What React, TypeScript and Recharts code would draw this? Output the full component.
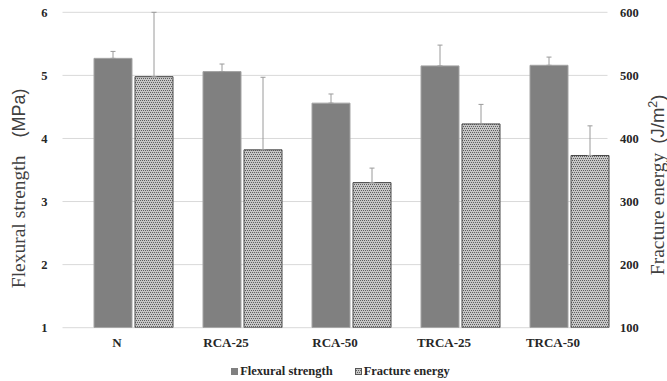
import React from 'react';
import { BarChart, Bar, XAxis, YAxis, CartesianGrid, ErrorBar, Legend } from 'recharts';

// Mix designs along the category axis
const categories = ['N', 'RCA-25', 'RCA-50', 'TRCA-25', 'TRCA-50'];

// Flexural strength (MPa) and its upper error
const flexuralStrength = [5.27, 5.06, 4.56, 5.15, 5.16];
const flexuralError = [0.11, 0.12, 0.145, 0.33, 0.13];

// Fracture energy (J/m²) and its upper error
const fractureEnergy = [498, 382, 330, 423, 373];
const fractureError = [102, 115, 23, 31, 47];

const leftTicks = [1, 2, 3, 4, 5, 6];
const rightTicks = [100, 200, 300, 400, 500, 600];

const data = categories.map((name, i) => ({
  name,
  flex: flexuralStrength[i],
  flexErr: [0, flexuralError[i]],
  frac: fractureEnergy[i],
  fracErr: [0, fractureError[i]],
}));

const SERIF = 'Liberation Serif';
const SANS = 'Liberation Sans';

const tickStyle = { fontFamily: SERIF, fontWeight: 700, fontSize: 12.5, fill: '#262626' };

// Fine stipple used for the fracture-energy bars
const dotCells: [number, number][] = [
  [0, 0], [2, 0], [1, 2], [3, 2],
];

const Stipple = ({ id }: { id: string }) => (
  <pattern id={id} width={4} height={4} patternUnits="userSpaceOnUse">
    <rect width={4} height={4} fill="#c6c6c6" />
    {dotCells.map(([x, y]) => (
      <rect key={`${x}-${y}`} x={x} y={y} width={1} height={1} fill="#5e5e5e" />
    ))}
  </pattern>
);

const LeftTitle = (props: any) => {
  const vb = props.viewBox || { x: 0, y: 0, width: 0, height: 0 };
  const bx = vb.x + 25.5;
  const by = vb.y + vb.height - 39.5;
  return (
    <text x={bx} y={by} transform={`rotate(-90 ${bx} ${by})`} fill="#404040" textAnchor="start">
      <tspan fontFamily={SERIF} fontSize={19.5}>Flexural strength</tspan>
      <tspan fontFamily={SANS} fontSize={18} dx={18}>(MPa)</tspan>
    </text>
  );
};

const RightTitle = (props: any) => {
  const vb = props.viewBox || { x: 0, y: 0, width: 0, height: 0 };
  const bx = vb.x + 57;
  const by = vb.y + vb.height - 52.5;
  return (
    <text x={bx} y={by} transform={`rotate(-90 ${bx} ${by})`} fill="#404040" textAnchor="start">
      <tspan fontFamily={SERIF} fontSize={19.5}>Fracture energy</tspan>
      <tspan fontFamily={SANS} fontSize={18.5} dx={9}>(J/m</tspan>
      <tspan fontFamily={SANS} fontSize={12.5} dy={-7}>2</tspan>
      <tspan fontFamily={SANS} fontSize={18.5} dy={7}>)</tspan>
    </text>
  );
};

const LegendContent = (props: any) => {
  const payload = props.payload || [];
  return (
    <div
      style={{
        height: 20,
        display: 'flex',
        justifyContent: 'center',
        alignItems: 'center',
        fontFamily: SERIF,
        fontWeight: 700,
        fontSize: 12.5,
        color: '#262626',
        paddingLeft: 14,
      }}
    >
      {payload.map((entry: any, i: number) => (
        <span
          key={entry.value}
          style={{ display: 'flex', alignItems: 'center', marginRight: i === 0 ? 22 : 0 }}
        >
          <svg width={7} height={7} style={{ marginRight: 2 }}>
            <defs>
              <Stipple id="legendDots" />
            </defs>
            {entry.dataKey === 'frac' ? (
              <rect x={0.5} y={0.5} width={6} height={6} fill="url(#legendDots)" stroke="#555" strokeWidth={1} />
            ) : (
              <rect x={0} y={0} width={7} height={7} fill="#808080" />
            )}
          </svg>
          <span>{entry.value}</span>
        </span>
      ))}
    </div>
  );
};

export default function App() {
  return (
    <div style={{ position: 'absolute', left: 0, top: 0, background: '#fff' }}>
      <BarChart
        width={667}
        height={381}
        data={data}
        margin={{ top: 12.3, right: 0, bottom: 0, left: 0 }}
        barGap={3}
      >
        <defs>
          <Stipple id="fractureDots" />
        </defs>
        <CartesianGrid vertical={false} stroke="#d9d9d9" strokeWidth={1} yAxisId="left" />
        <XAxis
          dataKey="name"
          height={33.3}
          axisLine={false}
          tickLine={false}
          tickSize={0}
          tickMargin={10}
          padding={{ left: 16.5, right: -16.5 }}
          interval={0}
          tick={{ ...tickStyle, fontSize: 13, dx: -16.5 }}
        />
        <YAxis
          yAxisId="left"
          orientation="left"
          width={62.5}
          domain={[1, 6]}
          ticks={leftTicks}
          allowDataOverflow
          axisLine={false}
          tickLine={false}
          tickSize={0}
          tickMargin={15}
          tick={tickStyle}
          label={(p: any) => <LeftTitle {...p} />}
        />
        <YAxis
          yAxisId="right"
          orientation="right"
          width={59.5}
          domain={[100, 600]}
          ticks={rightTicks}
          allowDataOverflow
          axisLine={false}
          tickLine={false}
          tickSize={0}
          tickMargin={12.5}
          tick={tickStyle}
          label={(p: any) => <RightTitle {...p} />}
        />
        <Legend verticalAlign="bottom" align="center" content={(p: any) => <LegendContent {...p} />} />
        <Bar
          yAxisId="left"
          dataKey="flex"
          name="Flexural strength"
          fill="#808080"
          stroke="#a3a3a3"
          strokeWidth={1}
          barSize={38}
          isAnimationActive={false}
        >
          <ErrorBar dataKey="flexErr" width={2.5} stroke="#9a9a9a" strokeWidth={1} direction="y" />
        </Bar>
        <Bar
          yAxisId="right"
          dataKey="frac"
          name="Fracture energy"
          fill="url(#fractureDots)"
          stroke="#4a4a4a"
          strokeWidth={1}
          barSize={38}
          isAnimationActive={false}
        >
          <ErrorBar dataKey="fracErr" width={2.5} stroke="#9a9a9a" strokeWidth={1} direction="y" />
        </Bar>
      </BarChart>
    </div>
  );
}
